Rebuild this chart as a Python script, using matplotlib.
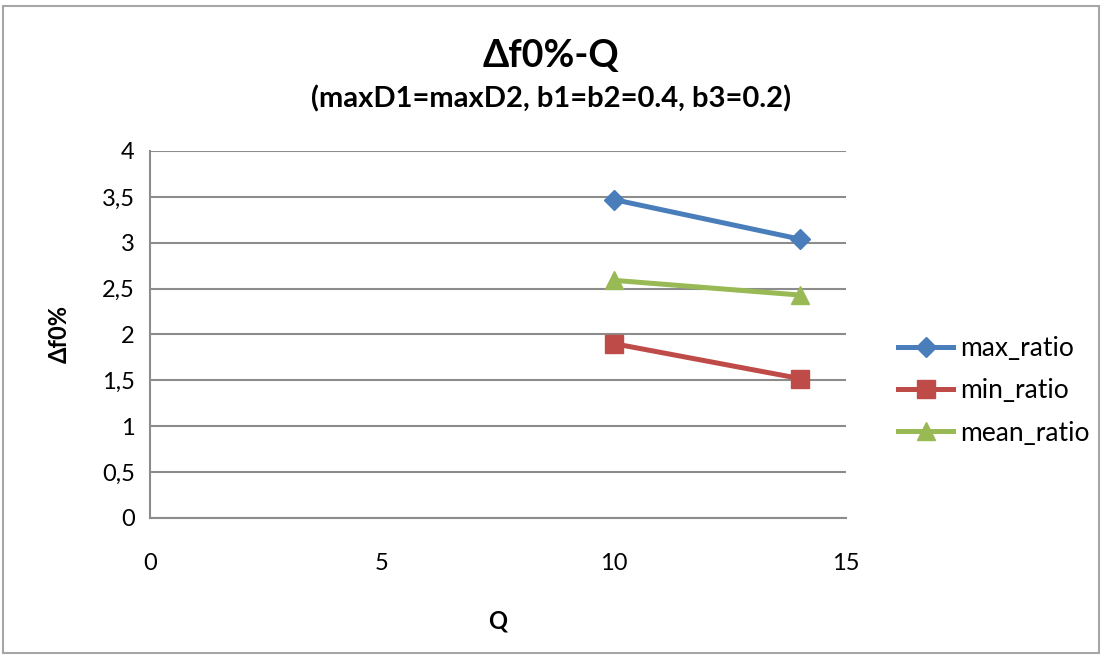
import matplotlib.pyplot as plt
from matplotlib.patches import Rectangle
from matplotlib.ticker import FuncFormatter

plt.rcParams['font.family'] = ['Lato', 'DejaVu Sans']

# data
q_values = [10, 14]
max_ratio = [3.47, 3.04]
min_ratio = [1.90, 1.52]
mean_ratio = [2.59, 2.43]

series = [
    ('max_ratio', max_ratio, '#4A7EBB', 'D', 10),
    ('min_ratio', min_ratio, '#BE4B48', 's', 13),
    ('mean_ratio', mean_ratio, '#98B954', '^', 13),
]

fig = plt.figure(figsize=(11.02, 6.57), dpi=100)
ax = fig.add_axes([0.1361, 0.2116, 0.6316, 0.5586])

# outer chart border
fig.patches.append(Rectangle((0.003, 0.006), 0.994, 0.985, transform=fig.transFigure,
                             fill=False, edgecolor='#a6a6a6', linewidth=1.5))

for name, vals, color, marker, ms in series:
    ax.plot(q_values, vals, color=color, lw=3.6, marker=marker, markersize=ms,
            markeredgecolor=color, label=name)

ax.set_xlim(0, 15)
ax.set_ylim(0, 4)
ax.set_xticks([0, 5, 10, 15])
ax.set_yticks([0, 0.5, 1, 1.5, 2, 2.5, 3, 3.5, 4])
ax.yaxis.set_major_formatter(FuncFormatter(lambda v, p: f'{v:g}'.replace('.', ',')))
ax.grid(axis='y', color='#8c8c8c', lw=1.5)
ax.set_axisbelow(True)
ax.tick_params(length=0, labelsize=17, colors='black')
ax.tick_params(axis='x', pad=25)
ax.tick_params(axis='y', pad=11)
for s in ['top', 'right']:
    ax.spines[s].set_visible(False)
for s in ['left', 'bottom']:
    ax.spines[s].set_color('#8c8c8c')
    ax.spines[s].set_linewidth(1.5)

ax.set_xlabel('Q', fontsize=17, fontweight='bold', labelpad=26)
ax.set_ylabel('Δf0%', fontsize=17, fontweight='bold', labelpad=22)

fig.text(0.5, 1 - 56 / 657, 'Δf0%-Q', ha='center', va='center', fontsize=27, fontweight='bold')
fig.text(0.5, 1 - 99 / 657, '(maxD1=maxD2, b1=b2=0.4, b3=0.2)', ha='center', va='center',
         fontsize=21, fontweight='bold')

ax.legend(loc='center left', bbox_to_anchor=(898 / 1102, 1 - 391 / 657),
          bbox_transform=fig.transFigure, frameon=False, fontsize=19,
          borderpad=0, borderaxespad=0, handlelength=2.1, labelspacing=0.65,
          handletextpad=0.25)

fig.savefig('out.png', dpi=100)
